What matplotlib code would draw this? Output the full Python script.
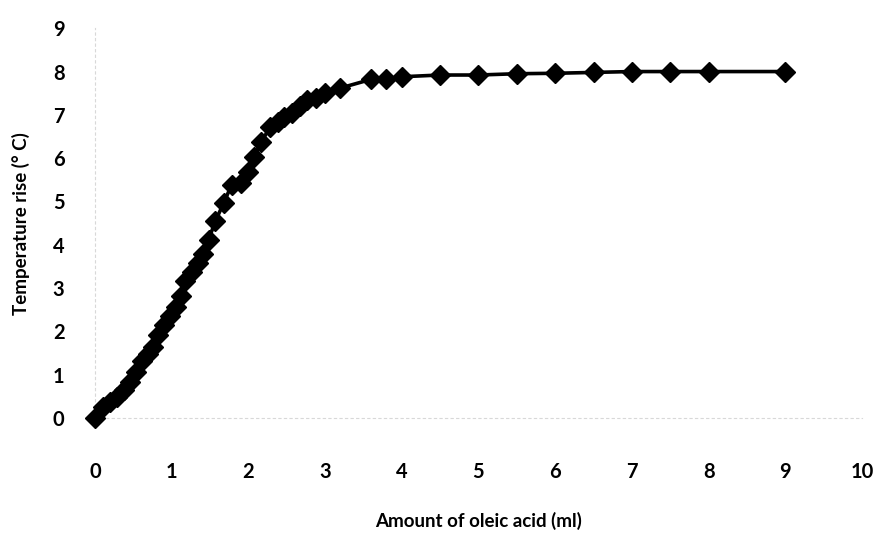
import matplotlib
matplotlib.use("Agg")
import matplotlib.pyplot as plt

x_ml = [0.0, 0.1, 0.2, 0.29, 0.38, 0.46, 0.53, 0.61, 0.69, 0.76, 0.82, 0.9, 0.98,
        1.05, 1.12, 1.18, 1.26, 1.34, 1.41, 1.48, 1.57, 1.68, 1.78, 1.91, 1.99,
        2.07, 2.17, 2.28, 2.38, 2.47, 2.57, 2.67, 2.77, 2.88, 3.0, 3.2, 3.6, 3.8,
        4.0, 4.5, 5.0, 5.5, 6.0, 6.5, 7.0, 7.5, 8.0, 9.0]
temp_rise = [0.0, 0.25, 0.37, 0.48, 0.65, 0.83, 1.06, 1.32, 1.48, 1.64, 1.92, 2.15, 2.36,
             2.56, 2.82, 3.16, 3.37, 3.58, 3.79, 4.11, 4.55, 4.97, 5.38, 5.43, 5.68,
             6.03, 6.37, 6.72, 6.84, 6.95, 7.04, 7.2, 7.35, 7.39, 7.5, 7.62, 7.82, 7.82,
             7.88, 7.92, 7.92, 7.95, 7.96, 7.98, 8.0, 8.0, 8.0, 8.0]
x_ticks = list(range(0, 11))
y_ticks = list(range(0, 10))

plt.rcParams['font.family'] = ['Lato', 'DejaVu Sans']
plt.rcParams['font.weight'] = 'bold'
fig = plt.figure(figsize=(8.82, 5.33), dpi=100)
ax = fig.add_axes([0.1077, 0.2158, 0.8696, 0.7312])
ax.plot(x_ml, temp_rise, color='black', lw=2.6, marker='D', markersize=10, zorder=3, clip_on=False)
ax.set_xlim(0, 10)
ax.set_ylim(0, 9)
ax.set_xticks(x_ticks)
ax.set_yticks(y_ticks)
ax.tick_params(length=0, labelsize=14.5)
ax.tick_params(axis='x', pad=32)
ax.tick_params(axis='y', pad=22)
for s in ['top', 'right']:
    ax.spines[s].set_visible(False)
for s in ['left', 'bottom']:
    ax.spines[s].set_color('#d8d8d8')
    ax.spines[s].set_linewidth(0.8)
    ax.spines[s].set_linestyle((0, (2, 3)))
ax.set_xlabel('Amount of oleic acid (ml)', fontsize=13.5, fontweight='bold', labelpad=21)
ax.set_ylabel('Temperature rise (° C)', fontsize=13.5, fontweight='bold', labelpad=16)
fig.savefig('out.png', dpi=100)
